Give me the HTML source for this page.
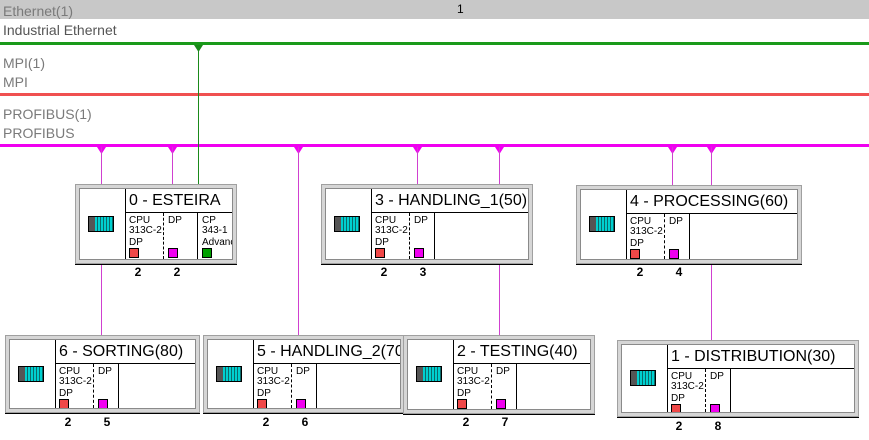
<!DOCTYPE html>
<html><head><meta charset="utf-8"><style>
body{margin:0;width:869px;height:440px;background:#fff;position:relative;overflow:hidden;font-family:"Liberation Sans","DejaVu Sans",sans-serif}
.a{position:absolute}
.lbl{position:absolute;left:3px;font-size:14px;color:#7a7a7a}
.box{position:absolute;border:1px solid #a0a0a0;background:#d6d6d6;box-shadow:0 1px 0 #000}
.in{position:absolute;left:3px;top:3px;right:3px;bottom:3px;background:#fff;border:1px solid #8a8a8a;overflow:hidden}
.lp{position:absolute;left:0;top:0;bottom:0;width:45px;border-right:1px solid #000}
.ic{position:absolute;left:8px;width:24px;height:14px;border:1px solid #000;background:repeating-linear-gradient(90deg,#00d0d0 0 2px,#0a6a6a 2px 3px)}
.ic:before{content:"";position:absolute;left:0;top:0;width:6px;height:14px;background:#555}
.hd{position:absolute;left:46px;top:0;right:0;height:23px;border-bottom:1px solid #000;font-size:16px;line-height:24px;padding-left:3px;white-space:nowrap;overflow:hidden;color:#000}
.m{position:absolute;top:24px;bottom:0;font-size:10px;line-height:10px;padding:3px 0 0 3px;box-sizing:border-box;color:#000}
.c1{left:46px;width:38px;border-right:1px dashed #000}
.c2{left:85px;width:33px;border-right:1px solid #000}
.c3{left:119px;width:36px}
.sq{position:absolute;left:3px;width:8px;height:8px;border:1px solid #000}
.r{background:#f04848}.p{background:#f000f0}.g{background:#00a000}
.n{position:absolute;font-size:12px;font-weight:bold;width:12px;text-align:center}
.v{position:absolute;width:1px}
</style></head><body>
<div class="a" style="left:0;top:0;width:869px;height:19px;background:#c8c8c8"></div>
<div class="a" style="left:457px;top:2px;font-size:12px">1</div>
<div class="lbl" style="top:3px">Ethernet(1)</div>
<div class="lbl" style="top:22px;color:#555">Industrial Ethernet</div>
<div class="a" style="left:0;top:42px;width:869px;height:3px;background:#1a9a1a"></div>
<div class="lbl" style="top:55px">MPI(1)</div>
<div class="lbl" style="top:74px">MPI</div>
<div class="a" style="left:0;top:93px;width:869px;height:3px;background:#f05050"></div>
<div class="lbl" style="top:106px">PROFIBUS(1)</div>
<div class="lbl" style="top:125px">PROFIBUS</div>
<div class="a" style="left:0;top:144px;width:869px;height:3px;background:#f000f0"></div>

<!-- connectors -->
<div class="v" style="left:198px;top:45px;height:139px;background:#1a8a1a"></div>
<svg class="a" style="left:0;top:0" width="869" height="160">
<polygon points="194,45 203,45 198.5,52" fill="#1a8a1a"/>
<g fill="#f000f0">
<polygon points="97,147 106,147 101.5,154"/><polygon points="168,147 177,147 172.5,154"/>
<polygon points="294,147 303,147 298.5,154"/><polygon points="413,147 422,147 417.5,154"/>
<polygon points="495,147 504,147 499.5,154"/><polygon points="668,147 677,147 672.5,154"/>
<polygon points="707,147 716,147 711.5,154"/></g></svg>
<div class="v" style="left:101px;top:147px;height:188px;background:#d040d0"></div>
<div class="v" style="left:172px;top:147px;height:37px;background:#d040d0"></div>
<div class="v" style="left:298px;top:147px;height:188px;background:#d040d0"></div>
<div class="v" style="left:417px;top:147px;height:37px;background:#d040d0"></div>
<div class="v" style="left:499px;top:147px;height:188px;background:#d040d0"></div>
<div class="v" style="left:672px;top:147px;height:38px;background:#d040d0"></div>
<div class="v" style="left:711px;top:147px;height:193px;background:#d040d0"></div>

<!-- box 0 -->
<div class="box" style="left:75px;top:184px;width:160px;height:78px"><div class="in">
<div class="lp"><div class="ic" style="top:27px"></div></div>
<div class="hd">0 - ESTEIRA</div>
<div class="m c1">CPU<br>313C-2<br><span style="line-height:14px">DP</span><div class="sq r" style="top:35px"></div></div>
<div class="m c2">DP<div class="sq p" style="top:35px"></div></div>
<div class="m c3">CP<br>343-1<br><span style="line-height:14px">Advanc</span><div class="sq g" style="top:35px"></div></div>
</div></div>
<div class="n" style="left:132px;top:265px">2</div><div class="n" style="left:171px;top:265px">2</div>

<!-- box 3 -->
<div class="box" style="left:321px;top:184px;width:210px;height:78px"><div class="in">
<div class="lp"><div class="ic" style="top:27px"></div></div>
<div class="hd">3 - HANDLING_1(50)</div>
<div class="m c1">CPU<br>313C-2<br><span style="line-height:14px">DP</span><div class="sq r" style="top:35px"></div></div>
<div class="m c2" style="width:24px">DP<div class="sq p" style="top:35px"></div></div>
</div></div>
<div class="n" style="left:378px;top:265px">2</div><div class="n" style="left:417px;top:265px">3</div>

<!-- box 4 -->
<div class="box" style="left:576px;top:185px;width:224px;height:77px"><div class="in">
<div class="lp"><div class="ic" style="top:26px"></div></div>
<div class="hd">4 - PROCESSING(60)</div>
<div class="m c1">CPU<br>313C-2<br><span style="line-height:14px">DP</span><div class="sq r" style="top:35px"></div></div>
<div class="m c2" style="width:24px">DP<div class="sq p" style="top:35px"></div></div>
</div></div>
<div class="n" style="left:634px;top:265px">2</div><div class="n" style="left:673px;top:265px">4</div>

<!-- box 6 -->
<div class="box" style="left:5px;top:335px;width:193px;height:76px"><div class="in">
<div class="lp"><div class="ic" style="top:26px"></div></div>
<div class="hd">6 - SORTING(80)</div>
<div class="m c1">CPU<br>313C-2<br><span style="line-height:14px">DP</span><div class="sq r" style="top:35px"></div></div>
<div class="m c2" style="width:24px">DP<div class="sq p" style="top:35px"></div></div>
</div></div>
<div class="n" style="left:62px;top:415px">2</div><div class="n" style="left:101px;top:415px">5</div>

<!-- box 5 -->
<div class="box" style="left:203px;top:335px;width:200px;height:76px"><div class="in">
<div class="lp"><div class="ic" style="top:26px"></div></div>
<div class="hd">5 - HANDLING_2(70)</div>
<div class="m c1">CPU<br>313C-2<br><span style="line-height:14px">DP</span><div class="sq r" style="top:35px"></div></div>
<div class="m c2" style="width:24px">DP<div class="sq p" style="top:35px"></div></div>
</div></div>
<div class="n" style="left:260px;top:415px">2</div><div class="n" style="left:299px;top:415px">6</div>

<!-- box 2 -->
<div class="box" style="left:403px;top:335px;width:190px;height:77px"><div class="in">
<div class="lp"><div class="ic" style="top:26px"></div></div>
<div class="hd">2 - TESTING(40)</div>
<div class="m c1">CPU<br>313C-2<br><span style="line-height:14px">DP</span><div class="sq r" style="top:35px"></div></div>
<div class="m c2" style="width:24px">DP<div class="sq p" style="top:35px"></div></div>
</div></div>
<div class="n" style="left:460px;top:415px">2</div><div class="n" style="left:499px;top:415px">7</div>

<!-- box 1 -->
<div class="box" style="left:617px;top:340px;width:240px;height:75px"><div class="in">
<div class="lp"><div class="ic" style="top:25px"></div></div>
<div class="hd">1 - DISTRIBUTION(30)</div>
<div class="m c1">CPU<br>313C-2<br><span style="line-height:14px">DP</span><div class="sq r" style="top:35px"></div></div>
<div class="m c2" style="width:24px">DP<div class="sq p" style="top:35px"></div></div>
</div></div>
<div class="n" style="left:673px;top:419px">2</div><div class="n" style="left:712px;top:419px">8</div>
</body></html>
